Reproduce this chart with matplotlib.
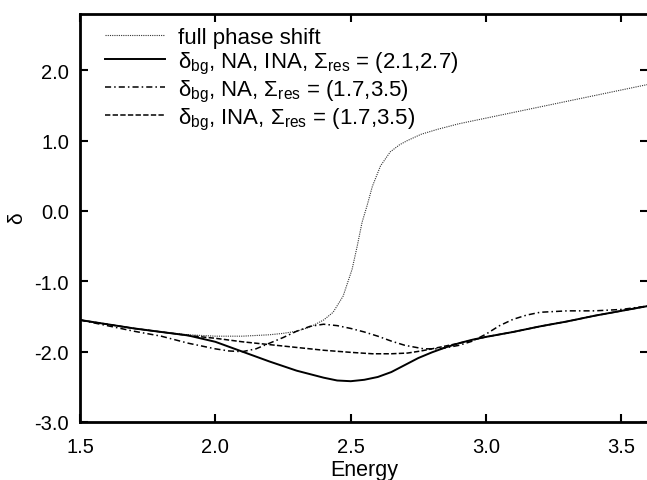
import matplotlib
matplotlib.use("Agg")
import matplotlib.pyplot as plt

plt.rcParams['font.family'] = ['Liberation Sans', 'DejaVu Sans']
plt.rcParams['mathtext.fontset'] = 'custom'
plt.rcParams['mathtext.rm'] = 'Liberation Sans'
plt.rcParams['mathtext.it'] = 'Liberation Sans'
plt.rcParams['mathtext.bf'] = 'Liberation Sans:bold'

# full phase shift
x_full = [1.5, 1.6, 1.7, 1.8, 1.9, 2.0, 2.1, 2.2, 2.25, 2.3, 2.35, 2.4, 2.435,
          2.472, 2.505, 2.524, 2.542, 2.56, 2.58, 2.61, 2.646, 2.68, 2.709, 2.76,
          2.82, 2.9, 3.0, 3.1, 3.2, 3.3, 3.4, 3.5, 3.6]
y_full = [-1.55, -1.61, -1.67, -1.72, -1.76, -1.78, -1.78, -1.76, -1.74, -1.71,
          -1.65, -1.55, -1.44, -1.21, -0.83, -0.50, -0.16, 0.07, 0.35, 0.64,
          0.84, 0.94, 1.00, 1.09, 1.16, 1.24, 1.32, 1.40, 1.48, 1.56, 1.64, 1.72, 1.80]

# delta_bg, NA, INA, Sigma_res = (2.1, 2.7)
x_bg1 = [1.5, 1.6, 1.7, 1.8, 1.9, 2.0, 2.1, 2.2, 2.3, 2.4, 2.45, 2.5, 2.55,
         2.6, 2.65, 2.7, 2.75, 2.8, 2.85, 2.9, 2.95, 3.0, 3.1, 3.2, 3.3, 3.4, 3.5, 3.6]
y_bg1 = [-1.55, -1.61, -1.67, -1.72, -1.77, -1.86, -2.00, -2.14, -2.27, -2.37,
         -2.41, -2.42, -2.40, -2.36, -2.29, -2.19, -2.09, -2.01, -1.94, -1.88,
         -1.83, -1.79, -1.72, -1.64, -1.57, -1.49, -1.42, -1.35]

# delta_bg, NA, Sigma_res = (1.7, 3.5)
x_bg2 = [1.5, 1.6, 1.7, 1.8, 1.9, 2.0, 2.05, 2.1, 2.15, 2.2, 2.25, 2.3, 2.35,
         2.4, 2.45, 2.5, 2.55, 2.6, 2.65, 2.7, 2.77, 2.83, 2.9, 2.95, 3.0,
         3.05, 3.1, 3.15, 3.2, 3.3, 3.4, 3.5, 3.6]
y_bg2 = [-1.55, -1.63, -1.71, -1.78, -1.88, -1.96, -1.99, -2.00, -1.96, -1.88,
         -1.80, -1.71, -1.64, -1.61, -1.63, -1.67, -1.72, -1.78, -1.85, -1.91,
         -1.96, -1.96, -1.91, -1.85, -1.75, -1.63, -1.54, -1.48, -1.44, -1.42,
         -1.42, -1.40, -1.35]

# delta_bg, INA, Sigma_res = (1.7, 3.5)
x_bg3 = [1.5, 1.6, 1.7, 1.8, 1.9, 2.0, 2.1, 2.2, 2.3, 2.4, 2.5, 2.58, 2.65,
         2.71, 2.76, 2.8, 2.85, 2.9, 3.0, 3.1, 3.2, 3.3, 3.4, 3.5, 3.6]
y_bg3 = [-1.55, -1.61, -1.67, -1.72, -1.77, -1.81, -1.86, -1.90, -1.94, -1.98,
         -2.01, -2.03, -2.03, -2.02, -1.99, -1.96, -1.92, -1.88, -1.79, -1.72,
         -1.64, -1.57, -1.49, -1.42, -1.35]

labels = ["full phase shift",
          r"$\delta_{\rm bg}$, NA, INA, $\Sigma_{\rm res}$ = (2.1,2.7)",
          r"$\delta_{\rm bg}$, NA, $\Sigma_{\rm res}$ = (1.7,3.5)",
          r"$\delta_{\rm bg}$, INA, $\Sigma_{\rm res}$ = (1.7,3.5)"]

xticks = [1.5, 2.0, 2.5, 3.0, 3.5]
yticks = [-3.0, -2.0, -1.0, 0.0, 1.0, 2.0]

W, H = 647, 481
fig = plt.figure(figsize=(W / 100, H / 100), dpi=100)
ax = fig.add_axes([80 / W, (H - 423) / H, (648.5 - 80) / W, (423 - 15) / H])

ax.plot(x_full, y_full, color='#333333', lw=0.8, linestyle=(0, (1, 1.0)), label=labels[0])
ax.plot(x_bg1, y_bg1, color='black', lw=1.4, linestyle='-', label=labels[1])
ax.plot(x_bg2, y_bg2, color='black', lw=1.1, linestyle=(0, (4, 2, 1, 2)), label=labels[2])
ax.plot(x_bg3, y_bg3, color='black', lw=1.1, linestyle=(0, (3.5, 1.5)), label=labels[3])

ax.set_xlim(1.5, 3.6)
ax.set_ylim(-3.0, 2.8)
ax.set_xticks(xticks)
ax.set_xticklabels([f"{v:.1f}" for v in xticks])
ax.set_yticks(yticks)
ax.set_yticklabels([f"{v:.1f}" for v in yticks])

for s in ax.spines.values():
    s.set_linewidth(2.0)
ax.tick_params(direction='in', length=6, width=1.5, labelsize=14.5,
               top=True, right=True)
ax.tick_params(axis='x', pad=11)
ax.tick_params(axis='y', pad=8)

ax.set_xlabel("Energy", fontsize=15.5, labelpad=2)
ax.set_ylabel(r"$\delta$", fontsize=15, labelpad=5)

leg = ax.legend(loc='upper left', frameon=False, fontsize=16,
                handlelength=2.7, handletextpad=0.6, labelspacing=0.08,
                borderaxespad=0.0, bbox_to_anchor=(0.028, 0.99))

fig.savefig("out.png", dpi=100)
